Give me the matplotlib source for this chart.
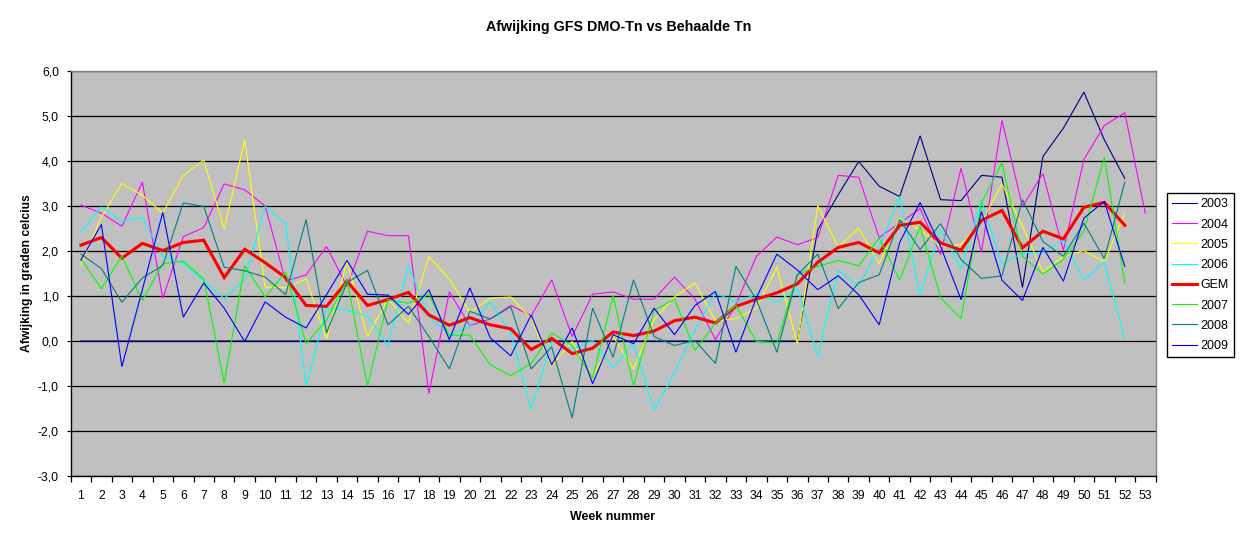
import matplotlib
matplotlib.use('Agg')
import matplotlib.pyplot as plt
from matplotlib.ticker import FixedLocator, FuncFormatter
import numpy as np

plt.rcParams['font.family'] = ['Liberation Sans', 'DejaVu Sans']

weken = list(range(1, 54))

# 2003 staat tot en met week 36 op 0
j2003 = [0.0] * 36 + [2.47, 3.25, 3.99, 3.44, 3.21, 4.56, 3.14, 3.12, 3.68, 3.64,
                      1.19, 4.10, 4.73, 5.53, 4.47, 3.61]
j2004 = [3.02, 2.84, 2.55, 3.53, 0.95, 2.32, 2.52, 3.49, 3.36, 3.00,
         1.33, 1.47, 2.10, 1.21, 2.44, 2.34, 2.34, -1.17, 1.09, 0.34,
         0.49, 0.79, 0.56, 1.36, 0.10, 1.04, 1.09, 0.93, 0.93, 1.42,
         0.93, 0.03, 0.81, 1.88, 2.31, 2.14, 2.30, 3.68, 3.64, 2.30,
         2.62, 2.94, 1.92, 3.84, 1.97, 4.90, 2.99, 3.72, 2.01, 4.03,
         4.79, 5.07, 2.84]
j2005 = [1.69, 2.75, 3.50, 3.24, 2.84, 3.68, 4.02, 2.49, 4.47, 1.20,
         1.18, 1.38, 0.04, 1.77, 0.10, 0.93, 0.40, 1.87, 1.38, 0.64,
         0.95, 0.98, 0.49, -0.56, -0.01, -0.82, 0.10, -0.62, 0.47, 0.98,
         1.29, 0.44, 0.50, 0.73, 1.64, -0.06, 3.01, 2.08, 2.51, 1.72,
         2.73, 2.47, 2.10, 2.14, 2.64, 3.49, 2.55, 1.53, 1.88, 2.01,
         1.76, 2.84]
j2006 = [2.41, 2.98, 2.66, 2.75, 1.88, 1.73, 1.33, 0.94, 1.36, 2.99,
         2.62, -1.00, 0.73, 0.68, 0.55, -0.10, 1.67, 0.55, 0.14, 0.33,
         0.87, 0.18, -1.53, 0.00, -0.19, 0.01, -0.60, -0.04, -1.53, -0.71,
         0.25, 1.07, 0.86, 1.04, 0.86, 1.17, -0.34, 1.57, 1.21, 2.07,
         3.21, 1.03, 2.47, 1.61, 3.12, 1.70, 1.96, 1.97, 2.25, 1.35,
         1.76, 0.04]
gem = [2.13, 2.30, 1.84, 2.17, 2.01, 2.19, 2.24, 1.41, 2.04, 1.74,
       1.41, 0.79, 0.77, 1.33, 0.79, 0.92, 1.08, 0.58, 0.35, 0.52,
       0.36, 0.27, -0.19, 0.06, -0.28, -0.16, 0.20, 0.12, 0.22, 0.45,
       0.53, 0.40, 0.77, 0.93, 1.07, 1.27, 1.75, 2.08, 2.19, 1.96,
       2.57, 2.64, 2.18, 2.02, 2.68, 2.90, 2.07, 2.44, 2.27, 2.97,
       3.08, 2.57]
j2007 = [1.83, 1.16, 1.89, 0.90, 1.72, 1.77, 1.38, -0.93, 1.67, 0.98,
         1.53, -0.06, 0.47, 1.35, -1.00, 0.92, 0.84, 1.03, 0.13, 0.13,
         -0.53, -0.77, -0.50, 0.18, -0.10, -0.82, 1.01, -1.00, 0.68, 0.93,
         -0.21, 0.40, 0.79, -0.01, -0.04, 1.47, 1.66, 1.79, 1.67, 2.29,
         1.35, 2.55, 0.96, 0.50, 3.07, 3.96, 1.88, 1.49, 1.81, 2.44,
         4.08, 1.29]
j2008 = [1.93, 1.61, 0.86, 1.40, 1.68, 3.07, 2.99, 1.64, 1.56, 1.42,
         1.03, 2.70, 0.18, 1.30, 1.57, 0.36, 0.77, 0.10, -0.62, 0.66,
         0.49, 0.76, -0.62, -0.13, -1.71, 0.73, -0.36, 1.36, 0.10, -0.10,
         0.01, -0.50, 1.66, 0.92, -0.25, 1.47, 1.93, 0.72, 1.30, 1.47,
         2.70, 2.03, 2.61, 1.81, 1.39, 1.45, 3.14, 2.21, 1.88, 2.62,
         1.83, 3.53]
j2009 = [1.80, 2.59, -0.57, 1.14, 2.86, 0.53, 1.29, 0.73, -0.01, 0.87,
         0.53, 0.29, 1.03, 1.79, 1.04, 1.02, 0.59, 1.14, 0.03, 1.18,
         0.07, -0.33, 0.58, -0.53, 0.29, -0.95, 0.14, -0.06, 0.73, 0.14,
         0.79, 1.10, -0.25, 0.96, 1.93, 1.58, 1.14, 1.45, 1.03, 0.36,
         2.19, 3.08, 2.10, 0.92, 2.88, 1.35, 0.90, 2.08, 1.33, 2.73,
         3.10, 1.66]

reeksen = [('2003', j2003, '#000080', 0.8),
           ('2004', j2004, '#FF00FF', 0.8),
           ('2005', j2005, '#FFFF00', 0.8),
           ('2006', j2006, '#00FFFF', 0.8),
           ('GEM', gem, '#FF0000', 2.2),
           ('2007', j2007, '#00FF00', 0.8),
           ('2008', j2008, '#008080', 0.8),
           ('2009', j2009, '#0000FF', 0.8)]

fig = plt.figure(figsize=(12.41, 5.44), dpi=100)
ax = fig.add_axes([70.7/1241, 1 - 476/544, (1155.5 - 70.7)/1241, (476 - 71)/544])
ax.set_facecolor('#C0C0C0')

for i, (naam, waarden, kleur, lw) in enumerate(reeksen):
    ax.plot(weken[:len(waarden)], waarden, color=kleur, lw=lw, label=naam,
            zorder=3 + i, solid_joinstyle='miter')

ax.set_xlim(0.5, 53.5)
ax.set_ylim(-3, 6)

# rasterlijnen
ax.set_yticks(range(-3, 7))
ax.yaxis.set_major_formatter(FuncFormatter(lambda v, p: ('%.1f' % v).replace('.', ',')))
ax.grid(axis='y', color='black', lw=0.9, zorder=1)
ax.tick_params(axis='y', direction='out', length=3, width=0.9, pad=5.5,
               labelsize=8.7, colors='black')

ax.xaxis.set_major_locator(FixedLocator(weken))
ax.set_xticklabels([str(w) for w in weken])
ax.xaxis.set_minor_locator(FixedLocator(np.arange(0.5, 54, 1)))
ax.tick_params(axis='x', which='major', length=0, pad=10, labelsize=8.7)
ax.tick_params(axis='x', which='minor', direction='out', length=4, width=0.9)

for s in ['top', 'right']:
    ax.spines[s].set_color('#808080')
    ax.spines[s].set_linewidth(1.0)
for s in ['left', 'bottom']:
    ax.spines[s].set_color('black')
    ax.spines[s].set_linewidth(1.0)

fig.text(618.5/1241, 1 - 27/544, 'Afwijking GFS DMO-Tn vs Behaalde Tn',
         ha='center', va='center', fontsize=10.3, fontweight='bold')
fig.text(27/1241, 1 - 273/544, 'Afwijking in graden celcius', rotation=90,
         ha='center', va='center', fontsize=8.7, fontweight='bold')
fig.text(612/1241, 1 - 517/544, 'Week nummer',
         ha='center', va='center', fontsize=9, fontweight='bold')

leg = fig.legend(loc='upper left', bbox_to_anchor=(1166.7/1241, 1 - 193.3/544),
                 fontsize=9, frameon=True, fancybox=False, edgecolor='black',
                 framealpha=1, borderpad=0.4, labelspacing=0.66,
                 handlelength=2.0, handletextpad=0.3, borderaxespad=0)
leg.get_frame().set_linewidth(1.0)

fig.savefig('out.png', dpi=100)
